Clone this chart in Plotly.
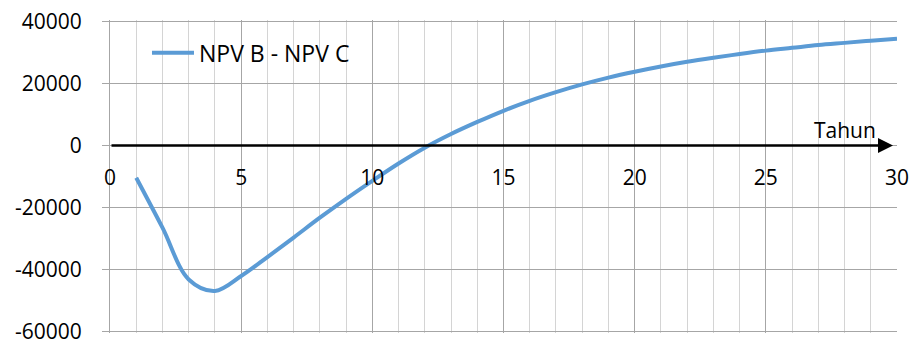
import plotly.graph_objects as go

# Year index and the difference between the two net present values
tahun = list(range(1, 31))
npv_b_minus_c = [
    -10400, -26500, -43200, -46900, -42100, -36000, -29700, -23300, -17200, -11400,
    -5800, -700, 3700, 7600, 11200, 14400, 17200, 19700, 21900, 23800,
    25500, 27000, 28300, 29500, 30600, 31500, 32400, 33100, 33800, 34400,
]
series_name = "NPV B - NPV C"
x_ticks = [0, 5, 10, 15, 20, 25, 30]
y_ticks = [-60000, -40000, -20000, 0, 20000, 40000]
y_tick_text = [f"{v:d}" for v in y_ticks]
axis_title = "Tahun"

FONT = "Open Sans"
BLUE = "#5B9BD5"

fig = go.Figure()
fig.add_trace(go.Scatter(
    x=tahun, y=npv_b_minus_c, mode="lines", name=series_name,
    line=dict(color=BLUE, width=4, shape="spline", smoothing=1),
    showlegend=True,
))

y_min, y_max = y_ticks[0], y_ticks[-1]
pad = 480
zero_frac = (0 - (y_min - pad)) / (y_max - y_min + 2 * pad)

fig.update_layout(
    width=912, height=345,
    margin=dict(l=110, r=15, t=20, b=12),
    paper_bgcolor="white", plot_bgcolor="white",
    font=dict(family=FONT, size=21, color="black"),
    showlegend=True,
    legend=dict(x=0.047, y=0.895, xanchor="left", yanchor="middle", itemwidth=42,
                bgcolor="rgba(0,0,0,0)", font=dict(size=23, family=FONT)),
    xaxis=dict(
        range=[x_ticks[0], x_ticks[-1]], tickvals=x_ticks,
        anchor="free", position=zero_frac, automargin=False,
        showline=False, zeroline=False, ticks="",
        showgrid=True, gridcolor="#a6a6a6", gridwidth=1,
        minor=dict(dtick=1, showgrid=True, gridcolor="#d4d4d4", gridwidth=1),
        tickfont=dict(size=21, family=FONT), ticklabelstandoff=18,
    ),
    yaxis=dict(
        range=[y_min - pad, y_max + pad], tickvals=y_ticks, ticktext=y_tick_text,
        automargin=False,
        showline=True, linecolor="#a6a6a6", linewidth=1,
        ticks="outside", ticklen=7, tickcolor="#a6a6a6",
        showgrid=True, gridcolor="#a6a6a6", gridwidth=1,
        zeroline=False, ticklabeloverflow="allow",
        tickfont=dict(size=21, family=FONT), ticklabelstandoff=16,
    ),
)

# Horizontal year axis with arrowhead along y = 0
fig.add_annotation(
    x=x_ticks[-1], y=0, ax=x_ticks[0], ay=0,
    xref="x", yref="y", axref="x", ayref="y",
    text="", showarrow=True, arrowhead=2, arrowsize=1.2,
    arrowwidth=2.5, arrowcolor="black", standoff=4,
)
fig.add_annotation(
    x=28.0, y=0, xref="x", yref="y", text=axis_title, showarrow=False,
    yanchor="bottom", yshift=0, font=dict(size=21, family=FONT, color="black"),
)

fig.write_html("out.html")
